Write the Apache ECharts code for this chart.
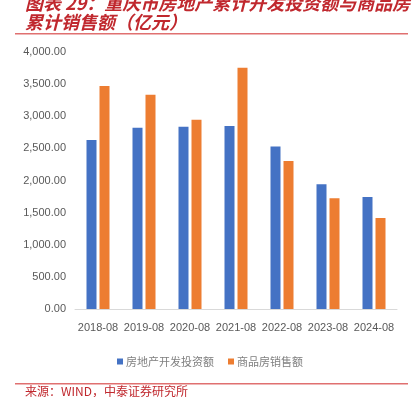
<!DOCTYPE html>
<html><head><meta charset="utf-8">
<script src="https://cdn.jsdelivr.net/npm/echarts@6/dist/echarts.min.js"></script>
<style>html,body{margin:0;padding:0;background:#fff}#c{width:420px;height:397px}</style>
</head><body><div id="c"></div>
<script>
var categories = ['2018-08','2019-08','2020-08','2021-08','2022-08','2023-08','2024-08'];
var investment = [2630, 2820, 2835, 2850, 2530, 1940, 1745];
var sales = [3470, 3335, 2945, 3755, 2305, 1725, 1415];
var seriesNames = ['房地产开发投资额','商品房销售额'];
var yTicks = {min: 0, max: 4000, interval: 500};
var titleLines = ['图表 29：重庆市房地产累计开发投资额与商品房','累计销售额（亿元）'];
var sourceText = '来源：WIND，中泰证券研究所';

var chart = echarts.init(document.getElementById('c'));
var narrow = '"Liberation Sans Narrow", "Arial Narrow", "Liberation Sans", sans-serif';
chart.setOption({
  animation: false,
  backgroundColor: '#fff',
  grid: {left: 75, right: 23, top: 52, bottom: 88, containLabel: false},
  legend: {
    data: seriesNames, top: 351, left: 'center', itemWidth: 6, itemHeight: 6, itemGap: 14,
    icon: 'rect',
    textStyle: {color: '#7f7f7f', fontSize: 11, fontFamily: '"Noto Sans CJK SC", sans-serif', padding: [0,0,0,-2]}
  },
  xAxis: {
    type: 'category', data: categories,
    axisLine: {lineStyle: {color: '#d9d9d9'}},
    axisTick: {show: false},
    axisLabel: {color: '#595959', fontSize: 11, fontFamily: narrow, margin: 13, interval: 0}
  },
  yAxis: {
    type: 'value', min: yTicks.min, max: yTicks.max, interval: yTicks.interval,
    splitLine: {show: false},
    axisLine: {show: false}, axisTick: {show: false},
    axisLabel: {color: '#595959', fontSize: 11, fontFamily: narrow, margin: 9,
      formatter: function(v){ return v.toLocaleString('en-US',{minimumFractionDigits:2, maximumFractionDigits:2}); }}
  },
  series: [
    {name: seriesNames[0], type: 'bar', data: investment, barWidth: 10, barGap: '30%',
     itemStyle: {color: '#4472C4'}},
    {name: seriesNames[1], type: 'bar', data: sales, barWidth: 10,
     itemStyle: {color: '#ED7D31'}}
  ],
  graphic: [
    {type: 'text', left: 25, top: -6, style: {text: titleLines[0], fill: '#c0282e',
      font: 'italic bold 18px "Noto Sans CJK SC", sans-serif'}},
    {type: 'text', left: 25, top: 13, style: {text: titleLines[1], fill: '#c0282e',
      font: 'italic bold 18px "Noto Sans CJK SC", sans-serif'}},
    {type: 'rect', shape: {x: 15, y: 33, width: 393, height: 1.5}, style: {fill: '#e07070'}},
    {type: 'rect', shape: {x: 15, y: 383, width: 393, height: 1.5}, style: {fill: '#e07070'}},
    {type: 'text', left: 25, top: 385, style: {text: sourceText, fill: '#c0282e',
      font: '12px "Noto Sans CJK SC", sans-serif'}}
  ]
});
</script></body></html>
